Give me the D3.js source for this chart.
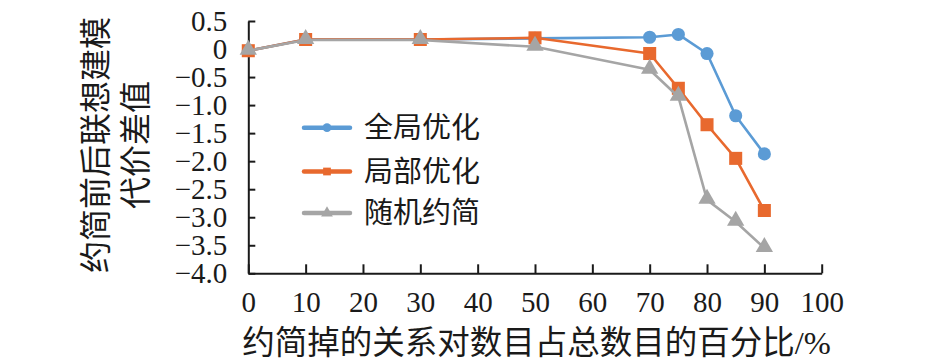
<!DOCTYPE html>
<html><head><meta charset="utf-8">
<script src="https://cdn.jsdelivr.net/npm/d3@7"></script>
<style>
html,body{margin:0;padding:0;background:#fff;}
</style></head>
<body>
<svg id="chart" width="945" height="364"></svg>
<script>
const xValues = [0, 10, 30, 50, 70, 75, 80, 85, 90];
const globalOpt = [-0.03, 0.17, 0.17, 0.19, 0.21, 0.26, -0.08, -1.19, -1.87];
const localOpt  = [-0.03, 0.17, 0.17, 0.20, -0.08, -0.70, -1.35, -1.95, -2.88];
const randomRed = [-0.03, 0.16, 0.16, 0.04, -0.37, -0.85, -2.69, -3.08, -3.55];
const seriesNames = ["全局优化", "局部优化", "随机约简"];
const seriesColors = ["#5B9BD5", "#E8692E", "#A5A5A5"];
const xTicks = [0,10,20,30,40,50,60,70,80,90,100];
const yTicks = [0.5,0,-0.5,-1,-1.5,-2,-2.5,-3,-3.5,-4];
const xTitle = "约简掉的关系对数目占总数目的百分比/%";
const yTitleLines = ["约简前后联想建模", "代价差值"];

const LATIN = "'Liberation Serif'";
const MIXED = "'Liberation Serif', 'Noto Sans CJK SC'";
const svg = d3.select("#chart");
const x = d3.scaleLinear().domain([0,100]).range([248.3, 821.7]);
const y = d3.scaleLinear().domain([-4,0.5]).range([273.3, 21]);

const fmt = d => d === 0 ? "0" : d3.format(".1f")(d);

// axes
const gy = svg.append("g").attr("transform", `translate(${x(0)},0)`)
  .call(d3.axisLeft(y).tickValues(yTicks).tickFormat(fmt).tickSizeInner(-7).tickSizeOuter(0).tickPadding(21));
const gx = svg.append("g").attr("transform", `translate(0,${y(-4)})`)
  .call(d3.axisBottom(x).tickValues(xTicks).tickSizeInner(-9).tickSizeOuter(0).tickPadding(18.5));
[gx, gy].forEach(g => {
  g.attr("font-family", null).attr("font-size", null);
  g.selectAll("path.domain").attr("stroke","#1a1a1a").attr("stroke-width",2);
  g.selectAll(".tick line").attr("stroke","#1a1a1a").attr("stroke-width",2);
  g.selectAll(".tick text").style("font-family", LATIN).style("font-size","29px").attr("fill","#1a1a1a");
});

// series
const allSeries = [globalOpt, localOpt, randomRed];
const line = d3.line().x((d,i)=>x(xValues[i])).y(d=>y(d));
const symbols = [d3.symbolCircle, d3.symbolSquare, d3.symbolTriangle];
const symSizes = [135, 170, 130];

allSeries.forEach((vals, si) => {
  const g = svg.append("g");
  g.append("path").datum(vals).attr("d", line).attr("fill","none")
    .attr("stroke", seriesColors[si]).attr("stroke-width", 2.6).attr("stroke-linejoin","round");
  g.selectAll("path.m").data(vals).join("path").attr("class","m")
    .attr("d", d3.symbol().type(symbols[si]).size(symSizes[si]))
    .attr("transform", (d,i)=>`translate(${x(xValues[i])},${y(d) + (si===2?-1:0)})`)
    .attr("fill", seriesColors[si]);
});

// legend
const legY = [127.7, 171.5, 213];
seriesNames.forEach((name, i) => {
  const g = svg.append("g");
  g.append("line").attr("x1",304).attr("x2",350).attr("y1",legY[i]).attr("y2",legY[i])
    .attr("stroke", seriesColors[i]).attr("stroke-width",4.5).attr("stroke-linecap","round");
  g.append("path").attr("d", d3.symbol().type(symbols[i]).size(60))
    .attr("transform", `translate(327,${legY[i]})`).attr("fill", seriesColors[i]);
  g.append("text").attr("x",364).attr("y",legY[i]).attr("dy","0.36em")
    .style("font-family", MIXED).style("font-size","29px").attr("fill","#1a1a1a").text(name);
});

// titles
svg.append("text").attr("x", (238+835)/2).attr("y", 342).attr("dy","0.36em")
  .attr("text-anchor","middle").style("font-family", MIXED).style("font-size","32.5px")
  .attr("fill","#1a1a1a").text(xTitle);
const ytx = [95, 135];
yTitleLines.forEach((t,i) => {
  svg.append("text").attr("transform", `translate(${ytx[i]},145) rotate(-90)`)
    .attr("text-anchor","middle").attr("dy","0.36em").style("font-family", MIXED)
    .style("font-size","32px").attr("fill","#1a1a1a").text(t);
});
</script>
</body></html>
